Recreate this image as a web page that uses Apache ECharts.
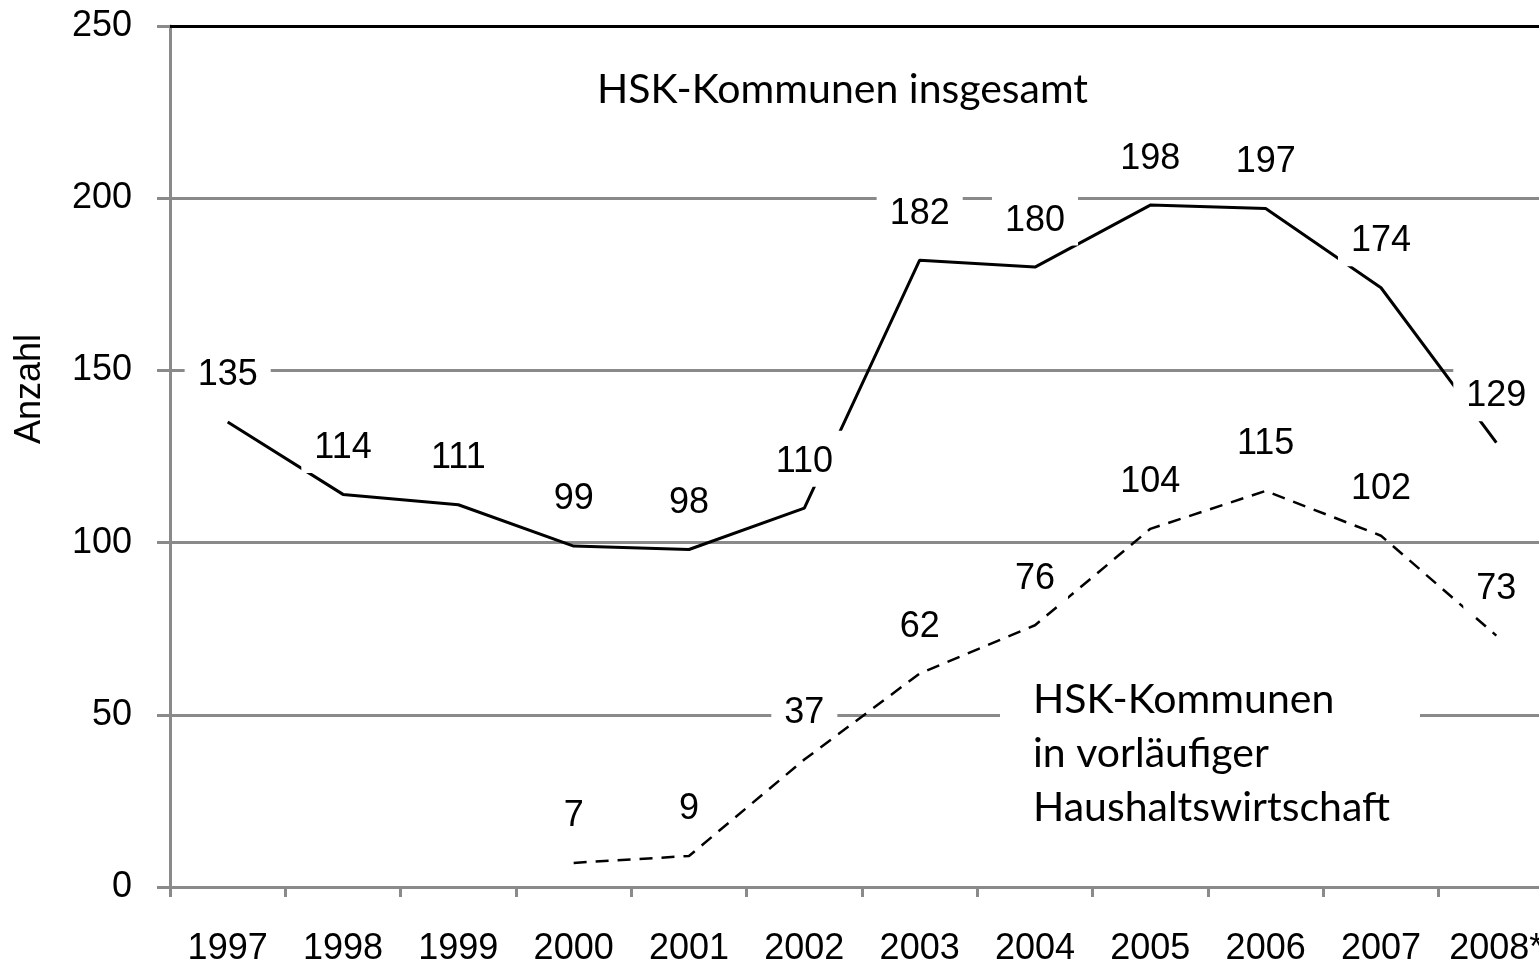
<!DOCTYPE html>
<html>
<head>
<meta charset="utf-8">
<title>HSK-Kommunen</title>
<script src="https://cdn.jsdelivr.net/npm/echarts@6/dist/echarts.min.js"></script>
<style>
  html, body { margin: 0; padding: 0; background: #fff; }
  #chart { width: 1539px; height: 962px; }
</style>
</head>
<body>
<div id="chart"></div>
<script>
const years = ['1997', '1998', '1999', '2000', '2001', '2002', '2003', '2004', '2005', '2006', '2007', '2008*']
const insgesamt = [135, 114, 111, 99, 98, 110, 182, 180, 198, 197, 174, 129]
const vorlaeufig = [null, null, null, 7, 9, 37, 62, 76, 104, 115, 102, 73]

const yMin = 0
const yMax = 250
const yStep = 50

const axisFont = 'Liberation Sans, Arial, sans-serif'
const noteFont = 'Lato, Carlito, Calibri, sans-serif'
const gray = '#8a8a8a'

// white box behind each value, it cuts grid lines and the curve like in the original
const valueLabel = {
  show: true,
  position: 'top',
  distance: 21,
  fontFamily: axisFont,
  fontSize: 36,
  lineHeight: 40,
  color: '#000',
  backgroundColor: '#fff',
  padding: [11, 13, 5, 13],
}

const chart = echarts.init(document.getElementById('chart'))
chart.setOption({
  animation: false,
  grid: {
    left: 170,
    top: 26,
    bottom: 75,
    right: -15,
    containLabel: false,
    outerBoundsMode: 'none',
  },
  xAxis: [
    {
      type: 'category',
      data: years,
      boundaryGap: true,
      axisLine: { lineStyle: { color: gray, width: 3 } },
      axisTick: { show: true, length: 10, interval: 0, lineStyle: { color: gray, width: 3 } },
      axisLabel: {
        interval: 0,
        margin: 44,
        color: '#000',
        fontFamily: axisFont,
        fontSize: 36,
      },
      splitLine: { show: false },
    },
    {
      type: 'category',
      position: 'top',
      data: years,
      axisLine: { lineStyle: { color: '#000', width: 3 } },
      axisTick: { show: false },
      axisLabel: { show: false },
      splitLine: { show: false },
    },
  ],
  yAxis: {
    type: 'value',
    min: yMin,
    max: yMax,
    interval: yStep,
    axisLine: { show: true, lineStyle: { color: gray, width: 3 } },
    axisTick: { show: true, length: 13, lineStyle: { color: gray, width: 3 } },
    axisLabel: {
      margin: 38,
      color: '#000',
      fontFamily: axisFont,
      fontSize: 36,
    },
    splitLine: { show: true, lineStyle: { color: gray, width: 3 } },
  },
  series: [
    {
      name: 'HSK-Kommunen insgesamt',
      type: 'line',
      data: insgesamt,
      symbol: 'circle',
      symbolSize: 1,
      itemStyle: { color: 'rgba(0,0,0,0)' },
      lineStyle: { color: '#000', width: 3 },
      label: valueLabel,
      z: 3,
    },
    {
      name: 'HSK-Kommunen in vorläufiger Haushaltswirtschaft',
      type: 'line',
      data: vorlaeufig,
      symbol: 'circle',
      symbolSize: 1,
      itemStyle: { color: 'rgba(0,0,0,0)' },
      lineStyle: { color: '#000', width: 2.5, type: [13, 9] },
      label: valueLabel,
      z: 3,
    },
  ],
  graphic: [
    {
      type: 'text',
      x: 30,
      y: 389,
      rotation: Math.PI / 2,
      style: {
        text: 'Anzahl',
        fontFamily: axisFont,
        fontSize: 36,
        fill: '#000',
        align: 'center',
        verticalAlign: 'middle',
      },
    },
    {
      type: 'text',
      x: 597,
      y: 90,
      style: {
        text: 'HSK-Kommunen insgesamt',
        fontFamily: noteFont,
        fontSize: 41,
        fill: '#000',
        align: 'left',
        verticalAlign: 'middle',
      },
    },
    {
      type: 'rect',
      shape: { x: 1000, y: 672, width: 420, height: 166 },
      style: { fill: '#fff' },
      z: 50,
    },
    {
      type: 'text',
      x: 1033,
      y: 754,
      z: 51,
      style: {
        text: 'HSK-Kommunen\nin vorläufiger\nHaushaltswirtschaft',
        fontFamily: noteFont,
        fontSize: 41,
        lineHeight: 54,
        fill: '#000',
        align: 'left',
        verticalAlign: 'middle',
      },
    },
  ],
})
</script>
</body>
</html>
